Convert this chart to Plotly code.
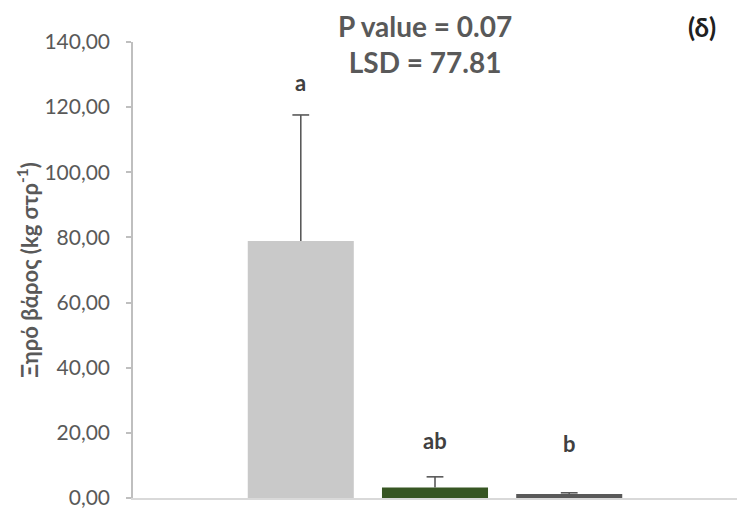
import plotly.graph_objects as go

# Data
x_pos = [1, 2, 3]
values = [78.9, 3.2, 1.2]
errors = [38.7, 3.3, 0.4]
letters = ["a", "ab", "b"]
letter_y = [127.7, 17.8, 16.6]
bar_colors = ["#C9C9C9", "#375623", "#595959"]
tick_vals = [0, 20, 40, 60, 80, 100, 120, 140]

font_family = "Lato, Open Sans, sans-serif"

# plot area in pixels (for converting paper coordinates)
PL, PR, PT, PB = 133, 737, 42, 498


def px(xp):
    return (xp - PL) / (PR - PL)


def py(yp):
    return (PB - yp) / (PB - PT)


fig = go.Figure()
fig.add_trace(go.Bar(
    x=x_pos, y=values,
    width=0.79,
    marker=dict(color=bar_colors, line=dict(width=0)),
    error_y=dict(type="data", array=errors, arrayminus=[0, 0, 0], symmetric=False,
                 color="#595959", thickness=1.6, width=0),
    showlegend=False,
))
# error-bar caps (top only)
fig.add_trace(go.Scatter(
    x=x_pos, y=[v + e for v, e in zip(values, errors)],
    mode="markers",
    marker=dict(symbol="line-ew-open", size=12, color="#595959",
                line=dict(color="#595959", width=1.6)),
    showlegend=False, hoverinfo="skip", cliponaxis=False,
))

for xp, ly, lt in zip(x_pos, letter_y, letters):
    fig.add_annotation(x=xp, y=ly, xref="x", yref="y", text=f"<b>{lt}</b>",
                       showarrow=False, font=dict(family=font_family, size=22, color="#404040"))

fig.add_annotation(x=px(425), y=py(44), xref="paper", yref="paper",
                   yanchor="middle", xanchor="center",
                   text="<b>P value = 0.07</b><br><b>LSD = 77.81</b>", showarrow=False,
                   font=dict(family=font_family, size=28, color="#595959"))
fig.add_annotation(x=px(702), y=py(27), xref="paper", yref="paper",
                   yanchor="middle", xanchor="center",
                   text="<b>(δ)</b>", showarrow=False,
                   font=dict(family=font_family, size=26, color="#202020"))

fig.update_layout(
    width=748, height=510,
    margin=dict(l=PL, r=748 - PR, t=PT, b=510 - PB, autoexpand=False),
    paper_bgcolor="white", plot_bgcolor="white",
    separators=",.",
    font=dict(family=font_family, color="#595959"),
    xaxis=dict(range=[-0.25, 4.25], showticklabels=False, ticks="",
               showgrid=False, zeroline=False, showline=True,
               linecolor="#D9D9D9", linewidth=1.5, automargin=False),
    yaxis=dict(range=[0, 140], tickvals=tick_vals, tickformat=".2f",
               showgrid=False, zeroline=False, showline=True,
               linecolor="#BFBFBF", linewidth=1.5, automargin=False,
               ticks="outside", ticklen=5, tickcolor="#BFBFBF", tickwidth=1.5,
               ticklabelstandoff=12,
               tickfont=dict(size=21, color="#595959"),
               title=dict(text="<b>Ξηρό βάρος (kg στρ<sup>-1</sup>)</b>",
                          font=dict(size=22, color="#595959"), standoff=0)),
)

fig.write_html("out.html")
